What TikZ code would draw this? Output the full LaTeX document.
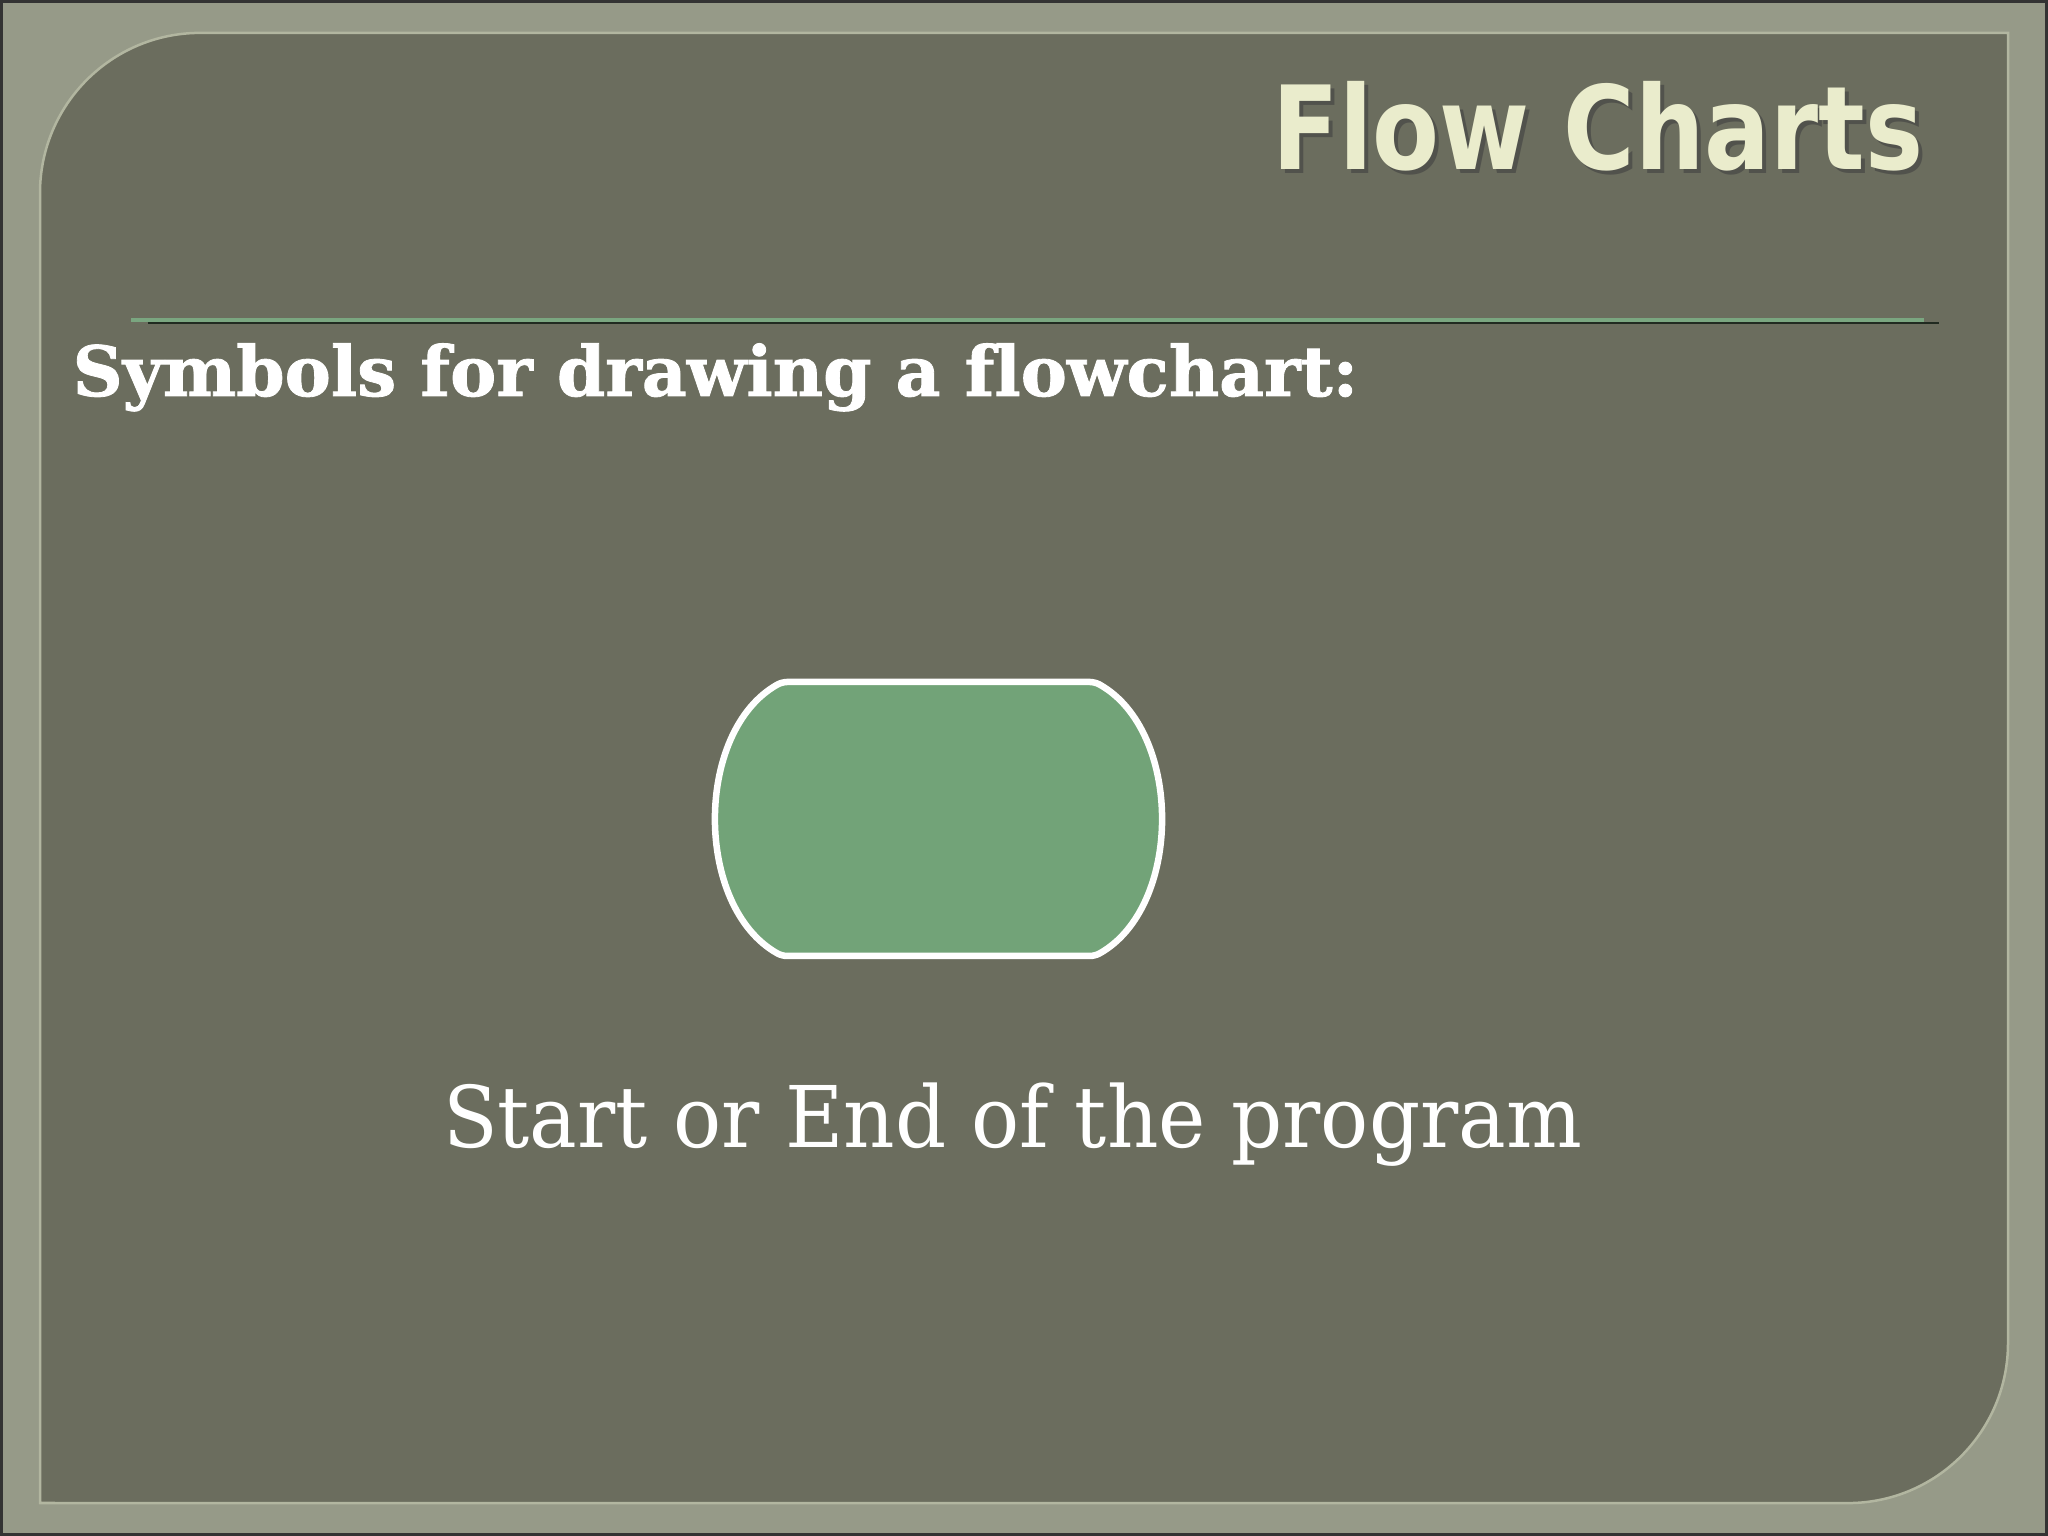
\documentclass[tikz,border=0pt]{standalone}
\usepackage{fontspec}
\usepackage{tikz}
\usetikzlibrary{positioning}
\newfontfamily\titlefont[FakeStretch=0.84]{DejaVu Sans}
\newfontfamily\slabfont[FakeStretch=0.94]{DejaVu Serif}
\newfontfamily\slabboldfont[FakeBold=1.2,Ligatures=NoCommon]{DejaVu Serif}
\definecolor{framecol}{RGB}{150,154,136}
\definecolor{panelcol}{RGB}{107,109,94}
\definecolor{panelrim}{RGB}{178,182,160}
\definecolor{titlecol}{RGB}{234,236,204}
\definecolor{rulegreen}{RGB}{122,166,128}
\definecolor{ruledark}{RGB}{32,42,32}
\definecolor{termfill}{RGB}{114,163,120}
\newcommand{\titletext}{\titlefont\bfseries\fontsize{33}{33}\selectfont Flow Charts}

\begin{document}
\begin{tikzpicture}[x=0.01cm,y=0.01cm,
        terminal/.style={draw=white,fill=termfill,line width=0.065cm,rounded corners=0.05cm},
        plain text/.style={inner sep=0pt,text=white}]
        \useasboundingbox (0,0) rectangle (2048,1536);
        % frame and panel
        \fill[framecol] (0,0) rectangle (2048,1536);
        \draw[black!80,line width=0.03cm] (1.5,1.5) rectangle (2046.5,1534.5);
        \filldraw[fill=panelcol,draw=panelrim,line width=0.025cm] (40,33) -- (40,1343)
                arc[start angle=180,end angle=90,radius=1.6cm] -- (2008,1503) -- (2008,193)
                arc[start angle=0,end angle=-90,radius=1.6cm] -- cycle;
        % rule under the title
        \coordinate (ruleA) at (131,1216);
        \coordinate (ruleB) at (1924,1216);
        \coordinate (ruleC) at (148,1213);
        \coordinate (ruleD) at (1939,1213);
        \draw[ruledark,line width=0.025cm] (ruleC) -- (ruleD);
        \draw[rulegreen,line width=0.035cm] (ruleA) -- (ruleB);
        % title
        \node (titleshadow) [anchor=base east,inner sep=0pt,text=black!75,opacity=0.6] at (1928,1362) {\titletext};
        \node (title) [anchor=base east,inner sep=0pt,text=titlecol] at (1924,1366) {\titletext};
        \node (sub) [plain text,anchor=base west] at (72,1140) {\slabboldfont\bfseries\fontsize{19.7}{20}\selectfont Symbols for drawing a flowchart:};
        % the symbol
        \coordinate (term) at (938.5,717);
        \draw[terminal] (938,854) -- (1095,854) .. controls (1183,805) and (1183,629) .. (1095,580)
                -- (782,580) .. controls (694,629) and (694,805) .. (782,854) -- cycle;
        \coordinate (termS) at (938.5,578);
        \node (caption) [plain text,below=1.89cm of termS,anchor=base,xshift=0.74cm]
                {\slabfont\fontsize{24.2}{25}\selectfont Start or End of the program};
\end{tikzpicture}
\end{document}
